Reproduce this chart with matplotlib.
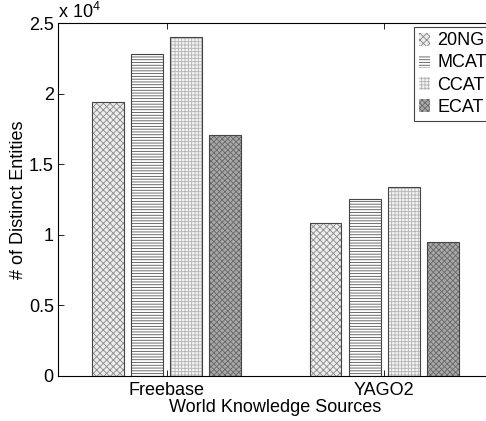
import numpy as np
import matplotlib
matplotlib.use("Agg")
import matplotlib.pyplot as plt
from matplotlib.patches import Patch

plt.rcParams['font.family'] = ['Liberation Sans', 'DejaVu Sans']
plt.rcParams['mathtext.fontset'] = 'custom'
plt.rcParams['mathtext.rm'] = 'Liberation Sans'
plt.rcParams['hatch.linewidth'] = 0.6

sources = ["Freebase", "YAGO2"]
datasets = ["20NG", "MCAT", "CCAT", "ECAT"]
entities = {
    "20NG": [19410, 10830],
    "MCAT": [22840, 12530],
    "CCAT": [24020, 13380],
    "ECAT": [17070, 9520],
}
yticks = [0, 5000, 10000, 15000, 20000, 25000]

# fill, hatch, hatch colour for each series
styles = {
    "20NG": ("#ececec", "xxxxx", "#8a8a8a"),
    "MCAT": ("#ffffff", "------", "#555555"),
    "CCAT": ("#f4f4f4", "+++++", "#b4b4b4"),
    "ECAT": ("#a8a8a8", "xxxxxx", "#686868"),
}

fs = 13
fig = plt.figure(figsize=(4.86, 4.21), dpi=100)
ax = fig.add_axes([0.1193, 0.1069, 0.895, 0.8373])

x = np.arange(1, len(sources) + 1)
offsets = [-0.27, -0.09, 0.09, 0.27]
width = 0.147
handles = []
for off, name in zip(offsets, datasets):
    fc, hatch, hc = styles[name]
    ax.bar(x + off, entities[name], width, color=fc, hatch=hatch,
           edgecolor=hc, linewidth=0, zorder=2)
    ax.bar(x + off, entities[name], width, fill=False,
           edgecolor="#444444", linewidth=0.8, zorder=3)
    handles.append(Patch(facecolor=fc, hatch=hatch, edgecolor=hc, linewidth=0))

ax.set_xlim(0.5, 2.5)
ax.set_ylim(0, 25000)
ax.set_xticks(x)
ax.set_xticklabels(sources, fontsize=fs)
ax.set_yticks(yticks)
ax.set_yticklabels([f"{t / 1e4:g}" for t in yticks], fontsize=fs)
ax.tick_params(direction="in", length=4, width=0.6, top=True, right=True, pad=4)
ax.tick_params(axis="y", pad=3)
for s in ax.spines.values():
    s.set_linewidth(0.8)
ax.text(0.0, 1.005, r"x 10$^4$", transform=ax.transAxes, fontsize=fs,
        ha="left", va="bottom")

ax.set_xlabel("World Knowledge Sources", fontsize=fs, labelpad=0)
ax.set_ylabel("# of Distinct Entities", fontsize=fs, labelpad=1)

leg = ax.legend(handles, datasets, loc="upper left", bbox_to_anchor=(0.818, 0.99),
                fontsize=fs, handlelength=0.6, handleheight=0.75, handletextpad=0.4,
                labelspacing=0.28, borderpad=0.3, borderaxespad=0,
                fancybox=False, framealpha=1)
leg.get_frame().set_edgecolor("#444444")
leg.get_frame().set_linewidth(0.8)

fig.savefig("out.png", dpi=100)
